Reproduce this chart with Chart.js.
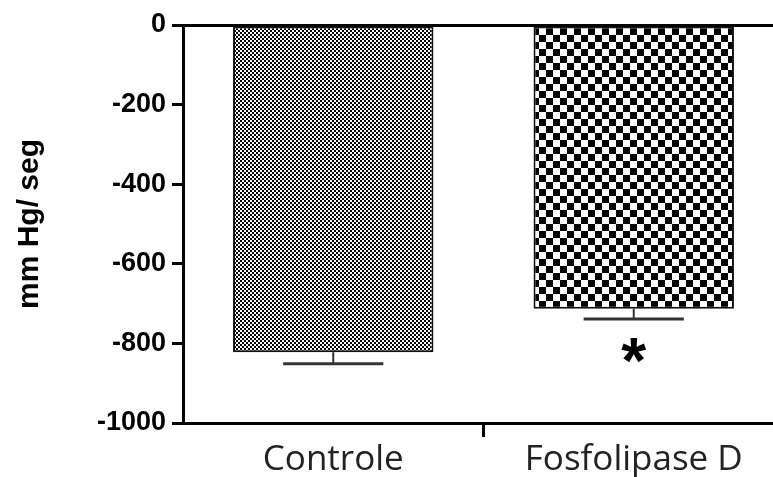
<!DOCTYPE html>
<html>
<head>
<meta charset="utf-8">
<script src="https://cdn.jsdelivr.net/npm/chart.js@4.4.1/dist/chart.umd.min.js"></script>
<style>
    html, body { margin: 0; padding: 0; background: #fff; overflow: hidden; }
    #wrap { width: 790px; height: 477px; }
</style>
</head>
<body>
<div id="wrap"><canvas id="chart"></canvas></div>
<script>
const categories = ['Controle', 'Fosfolipase D'];
const meanValues = [-822, -713];
const errorValues = [29, 26];
const markers = ['', '*'];
const yTicks = [0, -200, -400, -600, -800, -1000];

document.addEventListener('DOMContentLoaded', function() {
    showChart();
});

function makeChecker(size) {
    const c = document.createElement('canvas');
    c.width = size * 2;
    c.height = size * 2;
    const g = c.getContext('2d');
    g.fillStyle = '#fff';
    g.fillRect(0, 0, size * 2, size * 2);
    g.fillStyle = '#000';
    g.fillRect(0, 0, size, size);
    g.fillRect(size, size, size, size);
    return g.createPattern(c, 'repeat');
}

const errorBarPlugin = {
    id: 'errorBars',
    afterDatasetsDraw(chart) {
        const ctx = chart.ctx;
        const yScale = chart.scales.y;
        const meta = chart.getDatasetMeta(0);
        meta.data.forEach(function(bar, i) {
            const x = bar.x;
            const yStart = yScale.getPixelForValue(meanValues[i]);
            const yEnd = yScale.getPixelForValue(meanValues[i] - errorValues[i]);
            const half = bar.width / 4;
            ctx.save();
            ctx.strokeStyle = '#333';
            ctx.lineWidth = 2;
            ctx.beginPath();
            ctx.moveTo(x, yStart);
            ctx.lineTo(x, yEnd);
            ctx.stroke();
            ctx.lineWidth = 3;
            ctx.beginPath();
            ctx.moveTo(x - half, yEnd);
            ctx.lineTo(x + half, yEnd);
            ctx.stroke();
            if (markers[i]) {
                ctx.font = 'bold 64px "Liberation Sans", Arial, sans-serif';
                ctx.fillStyle = '#000';
                ctx.textAlign = 'center';
                ctx.textBaseline = 'alphabetic';
                const m = ctx.measureText(markers[i]);
                const cy = yEnd + 31;
                const base = cy + (m.actualBoundingBoxAscent - m.actualBoundingBoxDescent) / 2;
                ctx.fillText(markers[i], x, base);
            }
            ctx.restore();
        });
    }
};

function showChart() {
    const canvasChart = document.getElementById('chart').getContext('2d');
    new Chart(canvasChart, {
        type: 'bar',
        data: {
            labels: categories,
            datasets: [
                {
                    data: meanValues,
                    backgroundColor: [makeChecker(2), makeChecker(7)],
                    borderColor: '#111',
                    borderWidth: 2,
                    borderSkipped: false,
                    barPercentage: 0.667,
                    categoryPercentage: 1
                }
            ]
        },
        options: {
            responsive: true,
            maintainAspectRatio: false,
            animation: false,
            layout: { padding: { top: 25, right: 6, left: 0, bottom: 0 } },
            plugins: {
                legend: { display: false },
                tooltip: { enabled: false }
            },
            scales: {
                x: {
                    offset: true,
                    grid: {
                        offset: true,
                        drawOnChartArea: false,
                        drawTicks: true,
                        tickLength: 14,
                        lineWidth: 3,
                        color: function(c) { return c.index === 1 ? '#000' : 'rgba(0,0,0,0)'; }
                    },
                    border: { display: true, color: '#000', width: 3 },
                    ticks: {
                        color: '#222',
                        padding: 2,
                        font: { family: '"Open Sans", sans-serif', size: 35 }
                    },
                    afterFit: function(scale) { scale.height = 54; }
                },
                y: {
                    min: -1000,
                    max: 0,
                    afterBuildTicks: function(scale) {
                        scale.ticks = yTicks.map(function(v) { return { value: v }; });
                    },
                    grid: {
                        drawOnChartArea: true,
                        drawTicks: true,
                        tickLength: 11,
                        lineWidth: 3,
                        tickWidth: 3,
                        tickColor: '#000',
                        color: function(c) { return c.tick && c.tick.value === 0 ? '#000' : 'rgba(0,0,0,0)'; }
                    },
                    border: { display: true, color: '#000', width: 3 },
                    ticks: {
                        color: '#000',
                        padding: 6,
                        font: { family: '"Liberation Sans", Arial, sans-serif', size: 27, weight: 'bold' },
                        callback: function(value) { return String(value); }
                    },
                    title: {
                        display: true,
                        text: 'mm Hg/ seg',
                        color: '#000',
                        padding: { top: 12, bottom: 0 },
                        font: { family: '"Liberation Sans", Arial, sans-serif', size: 30, weight: 'bold' }
                    },
                    afterFit: function(scale) { scale.width = 183; }
                }
            }
        },
        plugins: [errorBarPlugin]
    });
}
</script>
</body>
</html>
